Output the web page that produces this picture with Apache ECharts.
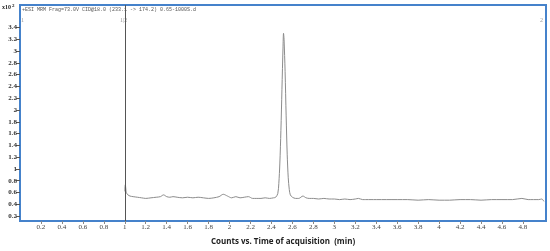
<!DOCTYPE html>
<html>
<head>
<meta charset="utf-8">
<script src="https://cdn.jsdelivr.net/npm/echarts@6/dist/echarts.min.js"></script>
<style>
html,body{margin:0;padding:0;background:#fff}
#chart{width:550px;height:251px}
</style>
</head>
<body>
<div id="chart"></div>
<script>
// 采集时间 (min) 与 计数 (x10^2)
var times = [1.00,1.005,1.015,1.03,1.05,1.08,1.12,1.16,1.20,1.25,1.30,1.34,1.37,1.40,1.43,1.46,1.50,1.55,1.60,1.65,1.70,1.75,1.80,1.85,1.90,1.94,1.98,2.02,2.06,2.10,2.14,2.18,2.22,2.26,2.30,2.34,2.38,2.42,2.44,2.46,2.47,2.48,2.49,2.50,2.51,2.515,2.52,2.53,2.54,2.55,2.56,2.57,2.58,2.60,2.63,2.66,2.70,2.73,2.76,2.80,2.85,2.90,2.95,3.00,3.05,3.10,3.15,3.20,3.23,3.27,3.30,3.35,3.40,3.50,3.60,3.70,3.80,3.90,4.00,4.10,4.20,4.30,4.40,4.50,4.60,4.70,4.79,4.85,4.90,4.95,4.98,5.00];
var counts = [0.62,0.73,0.60,0.56,0.54,0.53,0.52,0.51,0.50,0.51,0.52,0.53,0.56,0.53,0.52,0.53,0.52,0.51,0.52,0.51,0.52,0.51,0.50,0.51,0.53,0.57,0.54,0.51,0.53,0.51,0.52,0.53,0.50,0.50,0.50,0.51,0.50,0.51,0.52,0.58,0.75,1.10,1.65,2.35,3.05,3.30,3.20,2.65,1.90,1.25,0.85,0.65,0.56,0.52,0.50,0.50,0.54,0.51,0.50,0.50,0.49,0.50,0.49,0.49,0.48,0.49,0.48,0.49,0.50,0.48,0.48,0.48,0.48,0.48,0.48,0.48,0.47,0.48,0.47,0.47,0.48,0.48,0.47,0.48,0.48,0.48,0.50,0.48,0.48,0.48,0.49,0.45];
var xTicks = [0.2,0.4,0.6,0.8,1,1.2,1.4,1.6,1.8,2,2.2,2.4,2.6,2.8,3,3.2,3.4,3.6,3.8,4,4.2,4.4,4.6,4.8];
var yTicks = [0.2,0.4,0.6,0.8,1,1.2,1.4,1.6,1.8,2,2.2,2.4,2.6,2.8,3,3.2,3.4];
var titleText = '+ESI MRM Frag=73.0V CID@18.0 (233.1 -> 174.2) 0.65-1000S.d';

var myChart = echarts.init(document.getElementById('chart'));
var points = times.map(function (t, i) { return [t, counts[i]]; });

var option = {
    backgroundColor: '#fff',
    animation: false,
    grid: {
        left: 20, top: 5, right: 4, bottom: 25,
        show: true,
        borderColor: '#4582cb',
        borderWidth: 2
    },
    xAxis: {
        type: 'value',
        min: 0, max: 5.02,
        name: 'Counts vs. Time of acquisition  (min)',
        nameLocation: 'middle',
        nameGap: 17,
        nameTextStyle: {fontFamily: 'Open Sans', fontWeight: 'bold', fontSize: 8, color: '#222'},
        axisLine: {show: false},
        axisTick: {show: true, length: 3, customValues: xTicks, lineStyle: {color: '#888'}},
        axisLabel: {customValues: xTicks, fontSize: 7, fontFamily: 'Liberation Serif', color: '#444', margin: 3},
        splitLine: {show: false}
    },
    yAxis: {
        type: 'value',
        min: 0.117, max: 3.78,
        axisLine: {show: false},
        axisTick: {show: true, length: 4, customValues: yTicks, lineStyle: {color: '#555'}},
        axisLabel: {customValues: yTicks, fontSize: 7, fontFamily: 'Liberation Serif', fontWeight: 'bold', color: '#333', margin: 3},
        splitLine: {show: false}
    },
    graphic: [
        {type: 'text', left: 2, top: 3, style: {
            text: '{a|x10}{b|2}',
            rich: {
                a: {fontSize: 6, fontFamily: 'Liberation Serif', fontWeight: 'bold', fill: '#222'},
                b: {fontSize: 5, fontFamily: 'Liberation Serif', fontWeight: 'bold', fill: '#222', verticalAlign: 'top', padding: [0, 0, 4, 1]}
            }
        }},
        {type: 'text', left: 22, top: 7, style: {text: titleText, fontSize: 5, fontFamily: 'Liberation Mono', fill: '#555'}},
        {type: 'text', left: 21, top: 17, style: {text: '1', fontSize: 6, fontFamily: 'Liberation Serif', fill: '#999'}},
        {type: 'text', left: 120, top: 17, style: {text: '1|2', fontSize: 6, fontFamily: 'Liberation Serif', fill: '#999'}},
        {type: 'text', left: 540, top: 17, style: {text: '2', fontSize: 6, fontFamily: 'Liberation Serif', fill: '#999'}}
    ],
    series: [{
        type: 'line',
        data: points,
        showSymbol: false,
        smooth: 0.3,
        lineStyle: {color: '#8c8c8c', width: 1},
        markLine: {
            silent: true,
            symbol: 'none',
            label: {show: false},
            lineStyle: {color: '#555', width: 1, type: 'solid'},
            data: [{xAxis: 1}]
        }
    }]
};

myChart.setOption(option);
</script>
</body>
</html>
